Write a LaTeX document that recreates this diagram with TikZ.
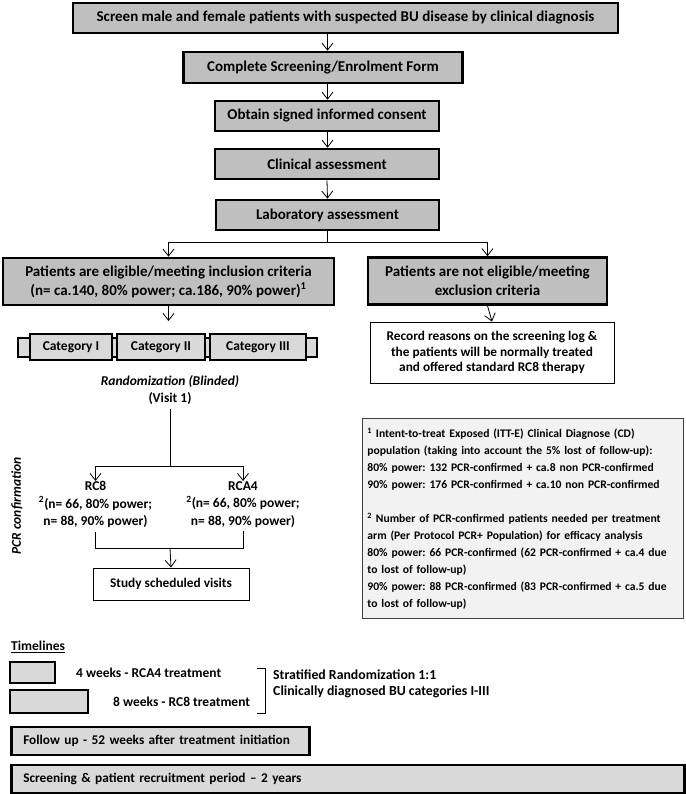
\documentclass[tikz,border=0pt]{standalone}
\usepackage{fontspec}
\setmainfont{Carlito}
\usetikzlibrary{arrows.meta}
\frenchspacing
\definecolor{boxgray}{RGB}{191,191,191}
\definecolor{tlgray}{RGB}{217,217,217}
\definecolor{notegray}{RGB}{242,242,242}
\definecolor{noteline}{RGB}{64,64,64}
\tikzset{
  stepbox/.style={draw,line width=2.6pt,fill=boxgray,inner sep=0pt,align=center,
    font=\bfseries\fontsize{15}{19}\selectfont},
  catbox/.style={draw,line width=2.4pt,fill=tlgray,inner sep=0pt,
    font=\bfseries\fontsize{13.5}{16}\selectfont},
  thinbox/.style={draw,line width=0.9pt,fill=white,inner sep=0pt,align=center,
    font=\bfseries\fontsize{13.3}{15.7}\selectfont},
  tlbox/.style={draw,line width=2.6pt,fill=tlgray,inner sep=0pt},
  txt/.style={font=\bfseries\fontsize{13.5}{16.5}\selectfont,inner sep=0pt},
  arr/.style={-{Straight Barb[length=7pt,width=11pt]},line width=0.8pt},
}
\begin{document}
\begin{tikzpicture}[x=1pt,y=-1pt]
\useasboundingbox (0,0) rectangle (685,794);
\node[stepbox,minimum width=545,minimum height=30] (screen) at (345.5,18)
  {Screen male and female patients with suspected BU disease by clinical diagnosis};
\node[stepbox,minimum width=279,minimum height=31] (form) at (323,67.5)
  {Complete Screening/Enrolment Form};
\node[stepbox,minimum width=224,minimum height=30] (consent) at (327,116)
  {Obtain signed informed consent};
\node[stepbox,minimum width=224,minimum height=30] (clin) at (327,164)
  {Clinical assessment};
\node[stepbox,minimum width=223,minimum height=30] (lab) at (327.5,215)
  {Laboratory assessment};
\draw[arr] (screen.south -| lab) -- (form.north -| lab);
\draw[arr] (form.south -| lab) -- (consent.north -| lab);
\draw[arr] (consent.south -| lab) -- (clin.north -| lab);
\draw[arr] (clin.south) -- (lab.north);
\node[stepbox,minimum width=331,minimum height=47] (elig) at (168.5,281.5)
  {Patients are eligible/meeting inclusion criteria\\
   (n= ca.140, 80\% power; ca.186, 90\% power)\textsuperscript{1}};
\node[stepbox,minimum width=239,minimum height=47] (excl) at (487.5,281)
  {Patients are not eligible/meeting\\exclusion criteria};
\coordinate (split) at (327.5,242);
\draw (lab.south) -- (split);
\draw[arr] (split) -| (elig.north);
\draw[arr] (split) -| (excl.north);
\node[thinbox,minimum width=244,minimum height=61] (record) at (492,352.5)
  {Record reasons on the screening log \&\\the patients will be normally treated\\and offered standard RC8 therapy};
\draw[arr] (excl.south) -- (record.north);
\node[tlbox,line width=2.4pt,minimum width=299,minimum height=19] (catbar) at (167.5,347.5) {};
\foreach \name/\x/\w/\lab in {cati/71/82/Category I,catii/161/88/Category II,catiii/258/96/Category III}
  \node[catbox,minimum width=\w,minimum height=26] (\name) at (\x,347) {\lab};
\coordinate (catin) at (168.5,321);
\draw[arr] (elig.south) -- (catin);
\node[txt,align=center] (rand) at (170,390) {\itshape Randomization (Blinded)\\(Visit 1)};
\coordinate (split2) at (170,466);
\draw ([yshift=-5pt]rand.south) -- (split2);
\node[txt,align=center,anchor=north,font=\bfseries\fontsize{13.5}{17.5}\selectfont] (rc8) at (95.5,481)
  {RC8\\\textsuperscript{2}(n= 66, 80\% power;\\n= 88, 90\% power)};
\node[txt,align=center,anchor=north,font=\bfseries\fontsize{13.5}{17.5}\selectfont] (rca4) at (243,481)
  {RCA4\\\textsuperscript{2}(n= 66, 80\% power;\\n= 88, 90\% power)};
\draw[arr] (split2) -| (rc8.north);
\draw[arr] (split2) -| (rca4.north);
\coordinate (join) at (170,548);
\node[thinbox,minimum width=156,minimum height=32] (visits) at (171,584) {Study scheduled visits};
\draw ([yshift=-4pt]rc8.south) |- (join);
\draw ([yshift=-4pt]rca4.south) |- (join);
\draw[arr] (join) -- (visits.north);
\node[txt,font=\bfseries\itshape\fontsize{13.5}{16}\selectfont,rotate=90] (pcr) at (17,506) {PCR confirmation};
\node[draw=noteline,line width=0.9pt,fill=notegray,anchor=north west,inner xsep=5pt,inner ysep=0pt,
  text width=311,minimum height=200,align=left,font=\bfseries\fontsize{11.6}{17}\selectfont] (note) at (362,418)
  {\textsuperscript{1} Intent-to-treat Exposed (ITT-E) Clinical Diagnose (CD)\\
   population (taking into account the 5\% lost of follow-up):\\
   80\% power: 132 PCR-confirmed + ca.8 non PCR-confirmed\\
   90\% power: 176 PCR-confirmed + ca.10 non PCR-confirmed\\[17pt]
   \textsuperscript{2} Number of PCR-confirmed patients needed per treatment\\
   arm (Per Protocol PCR+ Population) for efficacy analysis\\
   80\% power: 66 PCR-confirmed (62 PCR-confirmed + ca.4 due\\
   to lost of follow-up)\\
   90\% power: 88 PCR-confirmed (83 PCR-confirmed + ca.5 due\\
   to lost of follow-up)};
\node[txt,anchor=west] (timel) at (11,647) {\underline{Timelines}};
\node[tlbox,minimum width=45,minimum height=21] (wk4) at (32.5,672.5) {};
\node[txt,anchor=west] (wk4txt) at (76,673) {4 weeks - RCA4 treatment};
\node[tlbox,minimum width=78,minimum height=23] (wk8) at (49,701.5) {};
\node[txt,anchor=west] (wk8txt) at (113,702) {8 weeks - RC8 treatment};
\draw[line width=1pt] (257,668) -- (265,668) -- (265,713) -- (257,713);
\node[txt,anchor=west,align=left,font=\bfseries\fontsize{13.8}{16}\selectfont] (strat) at (273,684)
  {Stratified Randomization 1:1\\Clinically diagnosed BU categories I-III};
\node[tlbox,anchor=west,minimum height=28,inner xsep=12pt,text width=274,align=left,
  font=\bfseries\fontsize{13.3}{15}\selectfont] (follow) at (10,741)
  {Follow up - 52 weeks after treatment initiation};
\node[tlbox,anchor=west,minimum height=28,inner xsep=12pt,text width=649,align=left,
  font=\bfseries\fontsize{13.3}{15}\selectfont] (recruit) at (10,779)
  {Screening \& patient recruitment period – 2 years};
\end{tikzpicture}
\end{document}
